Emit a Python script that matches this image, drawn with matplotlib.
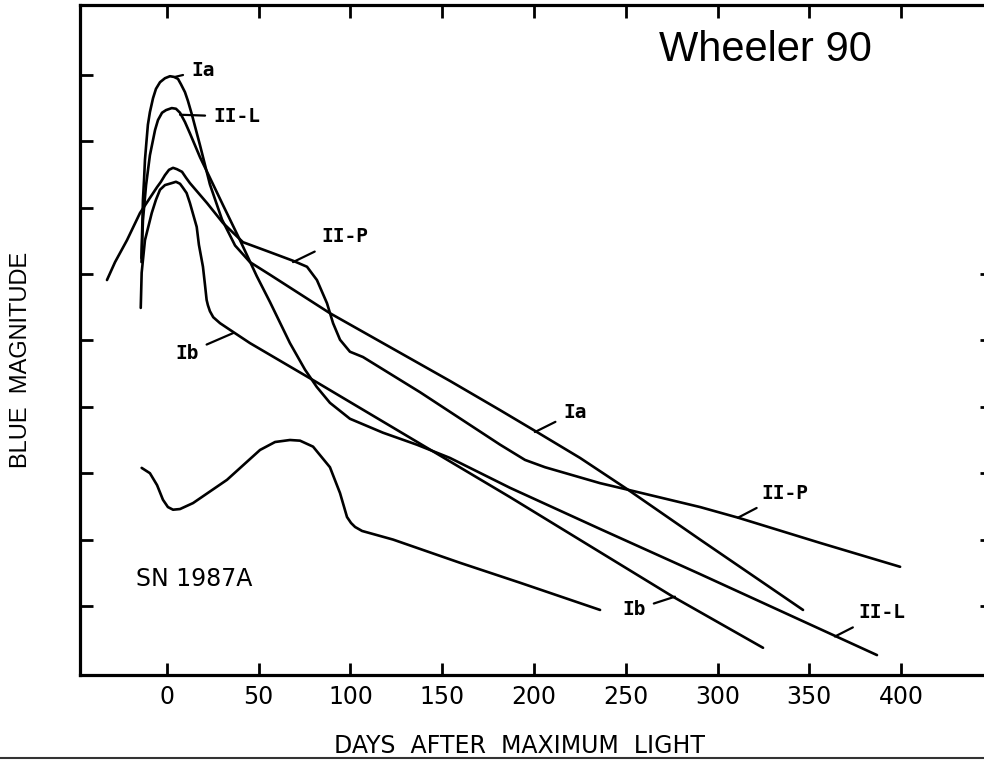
import matplotlib
matplotlib.use("Agg")
import matplotlib.pyplot as plt
from matplotlib.lines import Line2D

# Light curves (days after maximum, relative blue magnitude)
ia_days = [-13.9, -13.1, -12.5, -12.0, -11.2, -10.4, -9.3, -7.6, -6.0, -3.8, -1.1, 1.6, 3.8,
           6.0, 7.6, 9.8, 11.4, 13.6, 18.0, 23.4, 30.0, 37.1, 45.2, 56.1, 88.8, 154.2,
           181.5, 201.6, 225.1, 251.3, 290.5, 346.6]
ia_mag = [3.76, 2.88, 2.58, 2.28, 2.01, 1.75, 1.56, 1.35, 1.21, 1.11, 1.05, 1.02, 1.03,
          1.06, 1.14, 1.26, 1.39, 1.60, 2.06, 2.65, 3.18, 3.57, 3.82, 4.01, 4.59, 5.61,
          6.05, 6.38, 6.77, 7.25, 8.00, 9.06]

iil_days = [-13.9, -13.1, -11.4, -9.3, -6.5, -4.9, -2.7, -0.5, 2.6, 4.9, 7.1, 9.8, 12.5,
            18.0, 23.4, 30.5, 39.8, 48.9, 56.1, 67.0, 75.2, 81.6, 88.8, 99.7, 117.7,
            136.1, 154.2, 186.9, 236.0, 290.5, 345.0, 386.9]
iil_mag = [3.82, 3.19, 2.66, 2.21, 1.83, 1.68, 1.57, 1.53, 1.50, 1.51, 1.57, 1.71, 1.88,
           2.24, 2.55, 2.96, 3.49, 4.03, 4.42, 5.04, 5.44, 5.70, 5.94, 6.18, 6.39,
           6.57, 6.77, 7.22, 7.84, 8.52, 9.21, 9.74]

iip_days = [-32.7, -28.3, -21.8, -14.7, -5.4, -3.3, -1.1, 1.1, 3.3, 5.4, 8.2, 10.4, 12.5,
            21.8, 30.5, 41.4, 56.1, 68.7, 76.3, 81.7, 87.2, 90.5, 94.3, 99.7, 106.8,
            137.9, 181.5, 195.1, 206.0, 236.0, 251.3, 290.5, 311.2, 355.9, 399.5]
iip_mag = [4.09, 3.82, 3.49, 3.08, 2.69, 2.61, 2.51, 2.43, 2.40, 2.42, 2.46, 2.55, 2.63,
           2.93, 3.23, 3.52, 3.67, 3.80, 3.89, 4.09, 4.44, 4.74, 4.99, 5.17, 5.25,
           5.78, 6.57, 6.80, 6.91, 7.15, 7.25, 7.51, 7.67, 8.05, 8.41]

ib_days = [-14.3, -13.8, -12.0, -8.3, -6.0, -3.8, -1.1, 2.6, 4.9, 7.1, 8.7, 10.7, 12.5,
           16.2, 17.4, 19.6, 20.7, 21.6, 22.3, 23.4, 25.2, 28.9, 34.3, 45.2, 81.6,
           186.9, 275.7, 324.8]
ib_mag = [4.51, 3.98, 3.49, 3.08, 2.88, 2.73, 2.66, 2.63, 2.61, 2.64, 2.70, 2.78, 2.93,
          3.29, 3.56, 3.89, 4.16, 4.39, 4.47, 4.56, 4.65, 4.74, 4.84, 5.04, 5.63,
          7.36, 8.86, 9.63]

sn87a_days = [-13.8, -9.3, -5.4, -2.2, 0.5, 3.3, 7.1, 14.2, 32.7, 50.7, 58.9, 67.0, 72.5,
              79.6, 88.8, 94.3, 98.1, 100.3, 102.5, 106.3, 123.2, 159.7, 192.4, 236.0]
sn87a_mag = [6.92, 7.00, 7.18, 7.40, 7.51, 7.55, 7.54, 7.45, 7.10, 6.65, 6.53, 6.50, 6.51,
             6.60, 6.91, 7.30, 7.66, 7.75, 7.81, 7.87, 8.00, 8.35, 8.65, 9.06]

x_ticks = [0, 50, 100, 150, 200, 250, 300, 350, 400]
y_ticks = [1, 2, 3, 4, 5, 6, 7, 8, 9]
right_ticks = [4, 5, 6, 7, 8, 9]  # the upper ones fall off the scanned page

# label text, text position, point on the curve
curve_labels = [
    ("Ia", (19.6, 0.93), (4.4, 1.03)),
    ("II-L", (38.1, 1.63), (7.1, 1.60)),
    ("II-P", (97.0, 3.44), (68.7, 3.82)),
    ("Ib", (10.9, 5.19), (36.0, 4.89)),
    ("Ia", (222.3, 6.08), (200.5, 6.38)),
    ("II-P", (336.8, 7.30), (311.2, 7.67)),
    ("Ib", (254.5, 9.06), (276.8, 8.86)),
    ("II-L", (389.6, 9.10), (364.0, 9.46)),
]

fig = plt.figure(figsize=(9.84, 7.6), dpi=100)
ax = fig.add_axes([80 / 984, 1 - 675 / 760, 908 / 984, 670 / 760])

for days, mags in [(ia_days, ia_mag), (iil_days, iil_mag), (iip_days, iip_mag),
                   (ib_days, ib_mag), (sn87a_days, sn87a_mag)]:
    ax.plot(days, mags, color="black", lw=1.9, solid_joinstyle="round", solid_capstyle="round")

for text, text_pos, point in curve_labels:
    ax.annotate(text, xy=point, xytext=text_pos, ha="center", va="center",
                fontsize=14, fontweight="bold", family="DejaVu Sans Mono",
                arrowprops=dict(arrowstyle="-", lw=1.6, color="black",
                                shrinkA=4, shrinkB=0))

ax.text(14.7, 8.59, "SN 1987A", ha="center", va="center", fontsize=17, family="DejaVu Sans")

ax.set_xlim(-47.4, 447.4)
ax.set_ylim(10.04, -0.053)
ax.set_xticks(x_ticks)
ax.set_xticklabels([str(t) for t in x_ticks], fontsize=17, family="DejaVu Sans")
ax.set_yticks(y_ticks)
ax.set_yticklabels([])
ax.tick_params(direction="in", length=9, width=2, top=True, right=False, pad=7)
for spine in ax.spines.values():
    spine.set_linewidth(2.3)

# right-hand ticks, only the lower ones show
ax2 = ax.twinx()
ax2.set_ylim(ax.get_ylim())
ax2.set_yticks(right_ticks)
ax2.set_yticklabels([])
ax2.tick_params(direction="in", length=6, width=2)
for spine in ax2.spines.values():
    spine.set_visible(False)

fig.text(519 / 984, 1 - 746 / 760, "DAYS  AFTER  MAXIMUM  LIGHT", ha="center", va="center",
         fontsize=17, family="DejaVu Sans")
fig.text(21 / 984, 1 - 360 / 760, "BLUE  MAGNITUDE", ha="center", va="center",
         rotation=90, fontsize=17, family="Liberation Sans")
fig.text(765 / 984, 1 - 50 / 760, "Wheeler 90", ha="center", va="center",
         fontsize=30, family="Liberation Sans")

# slide edge under the figure
fig.add_artist(Line2D([0, 1], [1 - 758 / 760, 1 - 758 / 760], transform=fig.transFigure,
                      color="#333333", lw=1.5))

fig.savefig("out.png", dpi=100)
